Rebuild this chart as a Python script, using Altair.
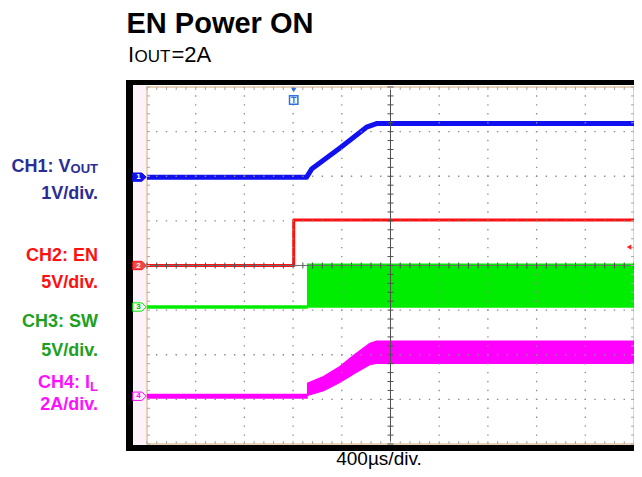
import altair as alt
import pandas as pd

FONT = "Liberation Sans, Arial, Helvetica, sans-serif"

# ---------------- scope settings ----------------
T_MAX = 4000          # µs across the screen (10 div x 400 µs)
T_DIV = 400
Y_DIVS = 4            # +/- divisions
W, H = 487, 357       # grid area in px

# channel: scale per division and screen offset (divisions)
ch_label = ["1", "2", "3", "4"]
ch_scale = [1.0, 5.0, 5.0, 2.0]
ch_offset = [1.98, 0.0, -0.93, -2.93]
ch_color = ["#1010f0", "#ff1010", "#00ec00", "#ff00ff"]

# ---------------- waveform values ----------------
# CH1 VOUT (V)
vout_t = [0, 1311, 1352, 1582, 1803, 1885, 4000]
vout_v = [0.0, 0.0, 0.18, 0.65, 1.12, 1.2, 1.2]

# CH2 EN (V)
en_t = [0, 1205, 1205, 4000]
en_v = [0.0, 0.0, 5.1, 5.1]

# CH3 SW (V)
sw_idle_t = [0, 1320]
sw_idle_v = [0.0, 0.0]
sw_band_t = [1320, 4000]
sw_band_lo = [0.0, 0.0]
sw_band_hi = [4.8, 4.8]

# CH4 IL (A)
il_idle_t = [0, 1320]
il_idle_v = [0.0, 0.0]
il_band_t = [1320, 1450, 1582, 1710, 1828, 1885, 4000]
il_band_lo = [0.04, 0.25, 0.62, 1.05, 1.42, 1.48, 1.48]
il_band_hi = [0.58, 0.88, 1.32, 1.88, 2.36, 2.47, 2.47]

# trigger
trig_t = 1205
trig_level_v = 2.07

# ---------------- helpers ----------------
def to_div(vals, ch):
    return [ch_offset[ch] + v / ch_scale[ch] for v in vals]

xs = alt.Scale(domain=[0, T_MAX], nice=False, zero=False)
ys = alt.Scale(domain=[-Y_DIVS, Y_DIVS], nice=False, zero=False)

def X(f="t"):
    return alt.X(f + ":Q", scale=xs, axis=None)

def Y(f="y"):
    return alt.Y(f + ":Q", scale=ys, axis=None)

one = pd.DataFrame({"k": [0]})

def line_df(t, v, ch):
    return pd.DataFrame({"t": t, "y": to_div(v, ch), "i": list(range(len(t)))})

def trace(t, v, ch, width):
    return alt.Chart(line_df(t, v, ch)).mark_line(
        color=ch_color[ch], strokeWidth=width, strokeJoin="round"
    ).encode(x=X(), y=Y(), order=alt.Order("i:Q"))

def band(t, lo, hi, ch):
    df = pd.DataFrame({"t": t, "lo": to_div(lo, ch), "hi": to_div(hi, ch)})
    return alt.Chart(df).mark_area(color=ch_color[ch], opacity=1,
                                   stroke=ch_color[ch], strokeWidth=1.5).encode(
        x=X(), y=Y("lo"), y2="hi:Q")

def box(x1, x2, y1, y2, **kw):
    return alt.Chart(one).mark_rect(**kw).encode(
        x=alt.value(x1), x2=alt.value(x2), y=alt.value(y1), y2=alt.value(y2))

def txt(s, x, y, size, color, bold=False, align="left", dy=0):
    return alt.Chart(one).mark_text(
        text=s, fontSize=size, color=color, font=FONT,
        fontWeight="bold" if bold else "normal", align=align,
        baseline="alphabetic").encode(x=alt.value(x), y=alt.value(y + dy))

layers = []

# screen frame
layers.append(box(-21, 495, -7, 364, color="black"))
layers.append(box(-14, 489, -2, 358, color="white"))
layers.append(box(-14, 0, -2, 358, color="#fcf2fa"))
layers.append(box(0, W, 0, H, fill="white", fillOpacity=0, stroke="#e4c4a4", strokeWidth=1.5))

# graticule data
x_major = [T_DIV * i for i in range(1, 10) if i != 5]
y_major = [i for i in range(-3, 4) if i != 0]
x_minor = [T_DIV * i / 5 for i in range(0, 51)]
y_minor = [i / 5 for i in range(-20, 21)]

# waveforms
layers.append(band(sw_band_t, sw_band_lo, sw_band_hi, 2))
layers.append(band(il_band_t, il_band_lo, il_band_hi, 3))
layers.append(trace(sw_idle_t, sw_idle_v, 2, 3.5))
layers.append(trace(il_idle_t, il_idle_v, 3, 5))
layers.append(trace(en_t, en_v, 1, 3))
layers.append(trace(vout_t, vout_v, 0, 5))

# dotted division lines
layers.append(alt.Chart(pd.DataFrame({"t": x_major})).mark_rule(
    color="#8a8a8a", strokeWidth=1.3, strokeDash=[1.4, 7.525], strokeDashOffset=0.7, strokeCap="butt"
).encode(x=X(), y=alt.value(0), y2=alt.value(H)))
layers.append(alt.Chart(pd.DataFrame({"y": y_major})).mark_rule(
    color="#8a8a8a", strokeWidth=1.3, strokeDash=[1.4, 8.34], strokeDashOffset=0.7, strokeCap="butt"
).encode(y=Y(), x=alt.value(0), x2=alt.value(W)))

# centre cross lines with minor ticks
layers.append(alt.Chart(pd.DataFrame({"t": [T_MAX / 2]})).mark_rule(color="#505050", strokeWidth=1).encode(
    x=X(), y=alt.value(0), y2=alt.value(H)))
layers.append(alt.Chart(pd.DataFrame({"y": [0]})).mark_rule(color="#707070", strokeWidth=1).encode(
    y=Y(), x=alt.value(0), x2=alt.value(W)))
layers.append(alt.Chart(pd.DataFrame({"t": x_minor})).mark_rule(color="#505050", strokeWidth=1).encode(
    x=X(), y=alt.value(H / 2 - 3), y2=alt.value(H / 2 + 3)))
layers.append(alt.Chart(pd.DataFrame({"y": y_minor})).mark_rule(color="#505050", strokeWidth=1).encode(
    y=Y(), x=alt.value(W / 2 - 3), x2=alt.value(W / 2 + 3)))

# border ticks
layers.append(alt.Chart(pd.DataFrame({"t": x_minor})).mark_rule(color="#a8a8a8", strokeWidth=1).encode(
    x=X(), y=alt.value(0), y2=alt.value(3)))
layers.append(alt.Chart(pd.DataFrame({"t": x_minor})).mark_rule(color="#a8a8a8", strokeWidth=1).encode(
    x=X(), y=alt.value(H - 3), y2=alt.value(H)))
layers.append(alt.Chart(pd.DataFrame({"y": y_minor})).mark_rule(color="#a8a8a8", strokeWidth=1).encode(
    y=Y(), x=alt.value(0), x2=alt.value(3)))
layers.append(alt.Chart(pd.DataFrame({"y": y_minor})).mark_rule(color="#a8a8a8", strokeWidth=1).encode(
    y=Y(), x=alt.value(W - 3), x2=alt.value(W)))

# channel ground markers
TAG = "M-1,-0.62L0.35,-0.62L1,0L0.35,0.62L-1,0.62Z"
m_fill = ["#1010f0", "#f04848", "#f2fff2", "#fff0ff"]
m_text = ["white", "white", "#00b000", "#ff00ff"]
for ch in range(4):
    dfm = pd.DataFrame({"y": [ch_offset[ch]], "lab": [ch_label[ch]]})
    layers.append(alt.Chart(dfm).mark_point(
        shape=TAG, size=180, filled=True, fill=m_fill[ch], stroke=ch_color[ch],
        strokeWidth=1, opacity=1).encode(x=alt.value(-7.5), y=Y()))
    layers.append(alt.Chart(dfm).mark_text(
        fontSize=8, fontWeight="bold", color=m_text[ch], font=FONT, dx=-1).encode(
        x=alt.value(-7.5), y=Y(), text="lab:N"))

# trigger position and level markers
trig_df = pd.DataFrame({"t": [trig_t]})
layers.append(alt.Chart(trig_df).mark_point(shape="triangle-down", size=30, filled=True,
                                            color="#3070e0", opacity=1).encode(x=X(), y=alt.value(3)))
layers.append(alt.Chart(trig_df).mark_point(shape="square", size=70, filled=False, color="#3070e0",
                                            strokeWidth=1.5, opacity=1).encode(x=X(), y=alt.value(13)))
layers.append(alt.Chart(trig_df).mark_text(text="T", fontSize=9, fontWeight="bold", color="#3070e0",
                                           font=FONT).encode(x=X(), y=alt.value(13)))
lvl_df = pd.DataFrame({"y": to_div([trig_level_v], 1)})
layers.append(alt.Chart(lvl_df).mark_point(shape="triangle-left", size=28, filled=True,
                                           color="#ff2020", opacity=1).encode(x=alt.value(W - 5), y=Y()))

# ---------------- texts ----------------
layers.append(txt("EN Power ON", -20.5, -54, 29, "black", bold=True))
layers.append(txt("I", -19, -25, 22, "black"))
layers.append(txt("OUT", -12.5, -25, 17, "black"))
layers.append(txt("=2A", 24.5, -25, 22, "black"))

C1, C2, C3, C4 = "#2b2d94", "#ff1010", "#20a020", "#ff10ff"
RX = -49
layers.append(txt("CH1: V", RX - 27.5, 85, 18, C1, bold=True, align="right"))
layers.append(txt("OUT", RX, 86, 13, C1, bold=True, align="right"))
layers.append(txt("1V/div.", RX, 112, 18, C1, bold=True, align="right"))
layers.append(txt("CH2: EN", RX, 174, 18, C2, bold=True, align="right"))
layers.append(txt("5V/div.", RX, 201, 18, C2, bold=True, align="right"))
layers.append(txt("CH3: SW", RX, 240, 18, C3, bold=True, align="right"))
layers.append(txt("5V/div.", RX, 269, 18, C3, bold=True, align="right"))
layers.append(txt("CH4: I", RX - 8, 301, 18, C4, bold=True, align="right"))
layers.append(txt("L", RX, 304, 13, C4, bold=True, align="right"))
layers.append(txt("2A/div.", RX, 323, 18, C4, bold=True, align="right"))

layers.append(txt("400\u00b5s/div.", 232, 377.5, 19, "black", align="center"))

chart = alt.layer(*layers).properties(
    width=W, height=H,
    padding={"left": 139, "top": 79, "right": 0, "bottom": 25},
    autosize=alt.AutoSizeParams(type="none"),
    background="white",
).configure_view(strokeWidth=0)

chart.save("out.html", embed_options={"renderer": "svg", "actions": False})
